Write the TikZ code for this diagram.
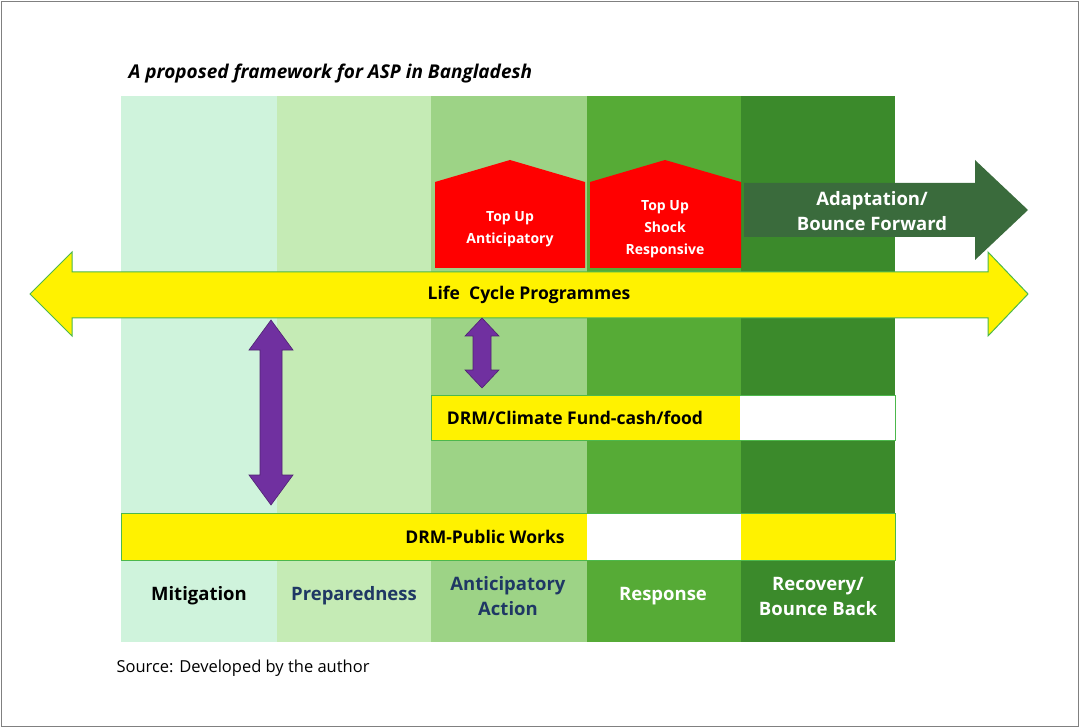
\documentclass[tikz,border=0pt]{standalone}
\usepackage{fontspec}
\setmainfont{Open Sans}
\begin{document}
\begin{tikzpicture}[x=1pt,y=-1pt,
  lab/.style={font=\fontsize{18.5}{25}\selectfont\bfseries,align=center},
  redt/.style={font=\fontsize{14}{22}\selectfont\bfseries,align=center,text=white},
  ybox/.style={fill=yellow,draw=green!60!black!70,line width=1pt},
  purp/.style={fill=pv,draw=pv!70!black,line width=0.6pt}]
\definecolor{c1}{HTML}{CFF3DC}\definecolor{c2}{HTML}{C5EBB5}\definecolor{c3}{HTML}{9DD386}
\definecolor{c4}{HTML}{56AB36}\definecolor{c5}{HTML}{3B8A2B}\definecolor{dg}{HTML}{3A6B3C}
\definecolor{nb}{HTML}{1F3864}\definecolor{pv}{HTML}{7030A0}
\useasboundingbox (0,0) rectangle (1079,727);
\draw[gray,line width=0.8pt] (1,1) rectangle (1078,726);
\node[anchor=west,font=\fontsize{19}{22}\selectfont\bfseries\itshape] (title) at (125,74) {A proposed framework for ASP in Bangladesh};
\fill[c1] (121,96) rectangle (277,642);
\fill[c2] (277,96) rectangle (431,642);
\fill[c3] (431,96) rectangle (587,642);
\fill[c4] (587,96) rectangle (741,642);
\fill[c5] (741,96) rectangle (895,642);
\fill[red] (435,268) -- (435,182) -- (510,160) -- (585,182) -- (585,268) -- cycle;
\fill[red] (590,268) -- (590,182) -- (665,160) -- (741,182) -- (741,268) -- cycle;
\node[redt] (ta) at (510,229) {Top Up\\Anticipatory};
\node[redt] (ts) at (665,229) {Top Up\\Shock\\Responsive};
\fill[dg] (744,183) -- (975,183) -- (975,160) -- (1028,210) -- (975,260) -- (975,237) -- (744,237) -- cycle;
\node[lab,text=white] (ad) at (872,211) {Adaptation/\\Bounce Forward};
\draw[ybox] (30,294) -- (72,252) -- (72,272) -- (988,272) -- (988,252) -- (1028,294) -- (988,336) -- (988,318) -- (72,318) -- (72,336) -- cycle;
\node[lab,font=\fontsize{17.5}{22}\selectfont\bfseries] (lc) at (529,295) {Life\ \ Cycle Programmes};
\draw[purp] (271,320) -- (293,350) -- (282,350) -- (282,475) -- (293,475) -- (271,505) -- (249,475) -- (260,475) -- (260,350) -- (249,350) -- cycle;
\draw[purp] (482,318) -- (499,336) -- (491,336) -- (491,370) -- (499,370) -- (482,388) -- (465,370) -- (473,370) -- (473,336) -- (465,336) -- cycle;
\fill[yellow] (431,395) rectangle (740,440);
\fill[white] (740,395) rectangle (895,440);
\draw[green!60!black!70,line width=1pt] (431,395) rectangle (895,440);
\node[lab,font=\fontsize{17.5}{22}\selectfont\bfseries] (drm) at (575,418) {DRM/Climate Fund-cash/food};
\fill[yellow] (121,513) rectangle (895,560);
\fill[white] (587,513) rectangle (741,560);
\draw[green!60!black!70,line width=1pt] (121,513) rectangle (895,560);
\node[lab,font=\fontsize{17.5}{22}\selectfont\bfseries] (pw) at (485,537) {DRM-Public Works};
\node[lab] (m) at (199,596) {Mitigation};
\node[lab,text=nb] (p) at (354,596) {Preparedness};
\node[lab,text=nb] (a) at (508,596) {Anticipatory\\Action};
\node[lab,text=white] (r) at (663,596) {Response};
\node[lab,text=white] (rb) at (818,596) {Recovery/\\Bounce Back};
\node[anchor=west,font=\fontsize{16.5}{20}\selectfont] (src) at (113,668) {Source: Developed by the author};
\end{tikzpicture}
\end{document}
